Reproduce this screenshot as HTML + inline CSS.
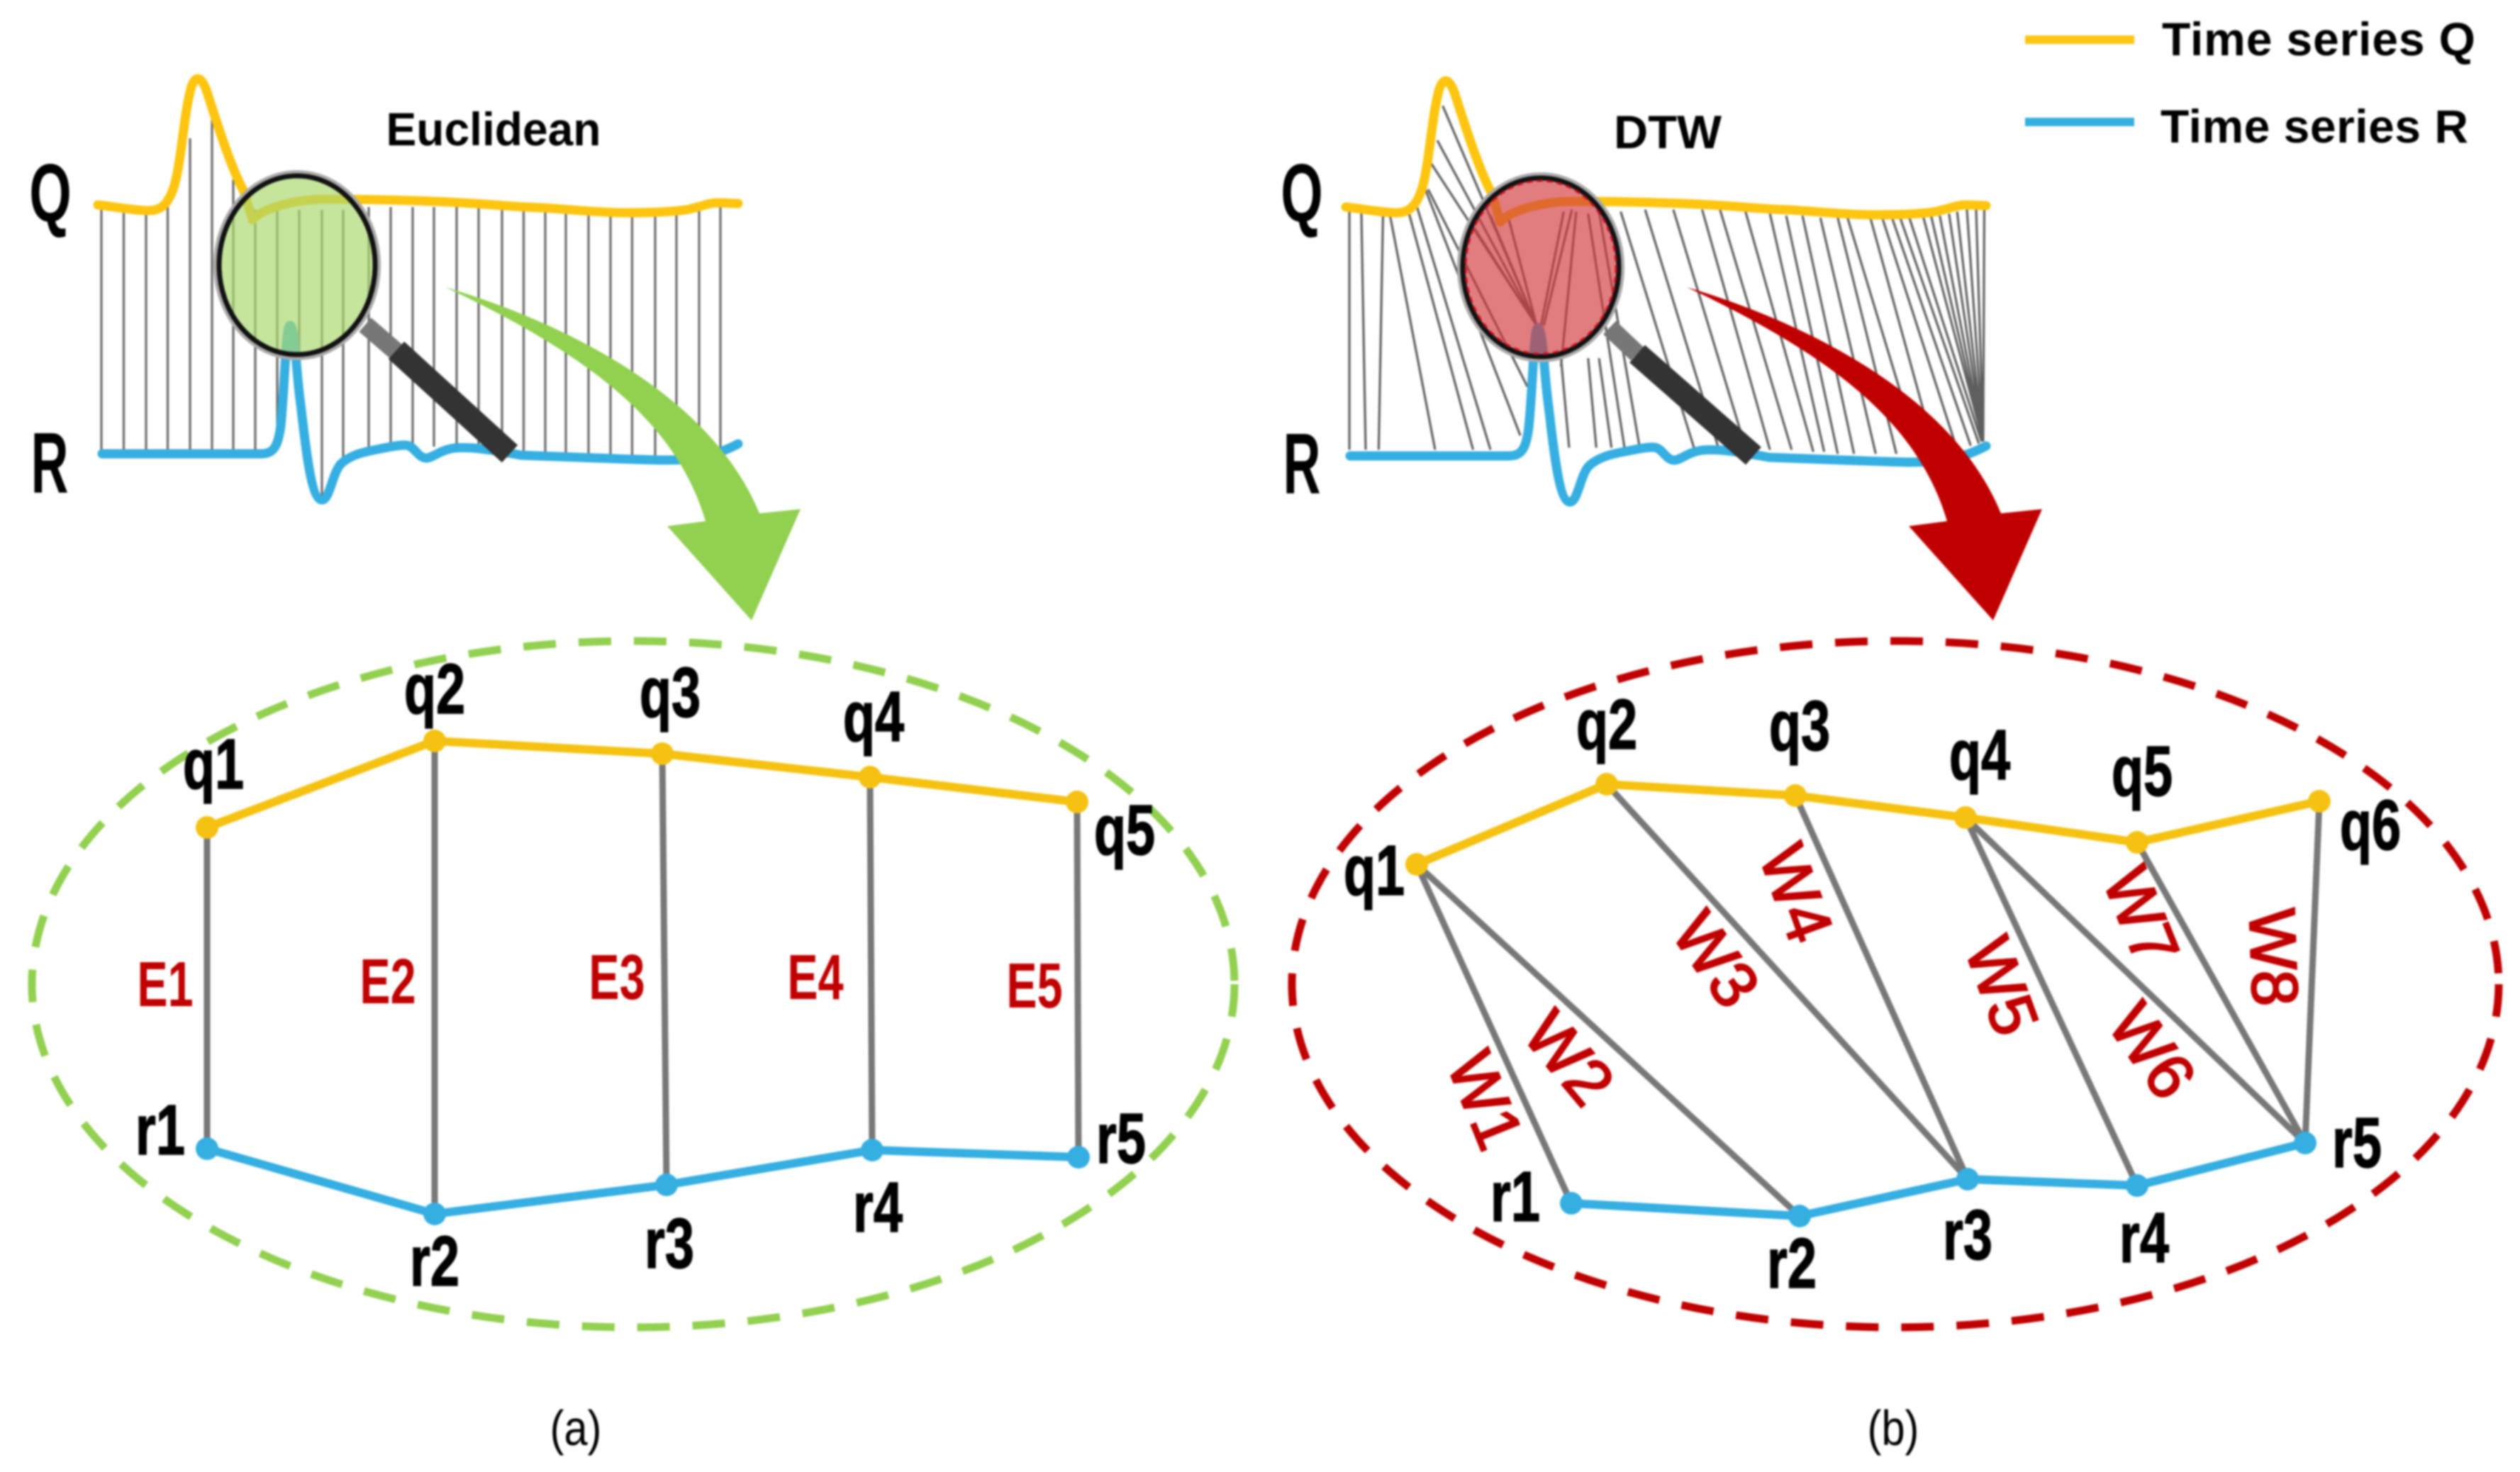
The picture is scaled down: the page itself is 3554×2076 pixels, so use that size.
<!DOCTYPE html>
<html><head><meta charset="utf-8"><style>
html,body{margin:0;padding:0;background:#fff}
svg{display:block;filter:blur(1.2px)}
text{font-family:"Liberation Sans",sans-serif;font-weight:bold;fill:#000;text-anchor:middle}
.n{font-size:100px;stroke:#000;stroke-width:1.5px}
.e{font-size:90px;fill:#c00000}
.w{font-size:92px;fill:#c00000;font-weight:normal;stroke:#c00000;stroke-width:2.5px}
.t{font-size:66px}
.c{font-size:70px;font-weight:normal}
.v{fill:none;stroke:#5f5f5f;stroke-width:3.2;vector-effect:non-scaling-stroke}
</style></head><body>
<svg xmlns="http://www.w3.org/2000/svg" width="3554" height="2076" viewBox="0 0 3554 2076">
<rect width="3554" height="2076" fill="#fff"/>

<!-- LEFT hairlines -->
<path fill="none" stroke="#6a6a6a" stroke-width="3.2" d="M143 296V634M174.500 296V634M206 296V634M236.500 290V634M268 195V634M299 169V634M329 253V634M360 296V634M391 296V622M422 296V545M454 296V700M484 296V655M520 292V640M551 292V632M582 292V630M612 292V630M644 292V632M675 292V634M708 292V640M738.500 293V640M769 295V642M798 297V643M830 298V644M861 300V645M891.500 300V646M924 300V648M954 298V648M986 296V646M1016 290V637"/>

<!-- RIGHT hairlines (zoom space) -->
<g transform="translate(1750,0) scale(.7653,.574)">
<path class="v" d="M200 515L200 1105M222 515L230 1105M262 525L254 1105M275 530L358 1105M310 525L428 1105M325 510L460 1105M340 465L515 1070M345 465L528 950M350 400L545 800M362 345L545 800M372 260L545 800M430 560L545 800M460 530L545 800M490 520L545 800M595 520L553 800M610 515L558 800M618 520L590 900M590 880L605 1100M640 880L655 1100M660 880L683 1100M640 525L707 1100M660 520L735 1100M700 520L835 1100M745 515L880 1100M797 515L930 1100M850 515L975 1105M883 515L1015 1105M930 520L1055 1110M975 525L1075 1110M1005 530L1100 1115M1035 530L1130 1115M1068 535L1170 1115M1100 535L1208 1115M1118 535L1250 1115M1160 535L1280 1115M1182 535L1320 1105M1200 535L1345 1095M1215 535L1360 1090M1232 535L1365 1085M1258 535L1368 1085M1272 530L1368 1085M1288 530L1368 1085M1305 525L1368 1085M1320 520L1368 1085M1338 515L1368 1085M1355 515L1368 1085M1370 515L1368 1085"/>
</g>

<!-- time series curves -->
<g fill="none" stroke-width="13" stroke-linejoin="round" stroke-linecap="round">
<path stroke="#fdc50f" d="M138 289C165 292 190 297 210 297C225 297 235 290 243 270C255 240 258 170 268 130C272 110 282 100 292 130C305 170 325 235 344 270"/>
<path stroke="#fdc50f" d="M356 310C372 292 420 281 459 281C520 281 560 282 612 284C690 287 720 292 765 293C810 296 850 300 880 300C920 300 950 299 972 295C990 291 1000 286 1012 286C1022 286 1032 287 1041 287"/>
<path stroke="#fdc50f" d="M344 270L356 310"/>
<path stroke="#35aee2" d="M144 640L367 640C385 640 392 632 396 600C402 540 403 459 409 459C416 459 418 530 424 570C430 620 438 705 454 705C465 705 468 670 480 655C495 640 520 636 536 633C550 630 565 627 574 628C585 630 590 646 601 646C610 646 620 635 640 632C660 630 680 632 735 642L842 646C900 648 940 650 965 648C990 646 1015 640 1041 626"/>
</g>
<g transform="translate(1760,3)" fill="none" stroke-width="13" stroke-linejoin="round" stroke-linecap="round">
<path stroke="#fdc50f" d="M138 289C165 292 190 297 210 297C225 297 235 290 243 270C255 240 258 170 268 130C272 110 282 100 292 130C305 170 325 235 344 270L356 310"/>
<path stroke="#fdc50f" d="M356 310C372 292 420 281 459 281C520 281 560 282 612 284C690 287 720 292 765 293C810 296 850 300 880 300C920 300 950 299 972 295C990 291 1000 286 1012 286C1022 286 1032 287 1041 287"/>
<path stroke="#35aee2" d="M144 640L367 640C385 640 392 632 396 600C402 540 403 459 409 459C416 459 418 530 424 570C430 620 438 705 454 705C465 705 468 670 480 655C495 640 520 636 536 633C550 630 565 627 574 628C585 630 590 646 601 646C610 646 620 635 640 632C660 630 680 632 735 642L842 646C900 648 940 650 965 648C990 646 1015 640 1041 626"/>
</g>

<!-- left magnifier -->
<line x1="515" y1="458" x2="559" y2="496" stroke="#777" stroke-width="26"/>
<line x1="559" y1="494" x2="719" y2="640" stroke="#333" stroke-width="33"/>
<ellipse cx="419" cy="374" rx="113" ry="129" fill="none" stroke="#aaa" stroke-width="10"/>
<ellipse cx="419" cy="374" rx="110" ry="126" fill="#a9d86f" fill-opacity=".68" stroke="#111" stroke-width="7"/>

<!-- right magnifier -->
<line x1="2270" y1="462" x2="2309" y2="499" stroke="#777" stroke-width="26"/>
<line x1="2309" y1="499" x2="2473" y2="643" stroke="#333" stroke-width="33"/>
<ellipse cx="2173" cy="377" rx="113" ry="129" fill="none" stroke="#aaa" stroke-width="10"/>
<ellipse cx="2173" cy="377" rx="110" ry="126" fill="#d2393c" fill-opacity=".66" stroke="#111" stroke-width="7"/>
<ellipse cx="2173" cy="377" rx="106" ry="122" fill="none" stroke="#d01020" stroke-width="3" stroke-dasharray="8 6"/>

<!-- big arrows -->
<path fill="#92d050" d="M628 405C780 450 1000 550 1071 724L1129 718L1060 875L941 742L995 735C955 600 840 505 628 405Z"/>
<path fill="#c00000" transform="translate(1751,0)" d="M628 405C780 450 1000 550 1071 724L1129 718L1060 875L941 742L995 735C955 600 840 505 628 405Z"/>

<!-- dashed ellipses -->
<ellipse cx="893" cy="1388" rx="848" ry="484" fill="none" stroke="#92d050" stroke-width="11" stroke-dasharray="46 32"/>
<ellipse cx="2673" cy="1388" rx="851" ry="484" fill="none" stroke="#c00000" stroke-width="11" stroke-dasharray="46 32"/>

<!-- left graph -->
<g stroke="#777" stroke-width="9">
<line x1="292" y1="1167" x2="292" y2="1620"/><line x1="613" y1="1045" x2="613" y2="1712"/><line x1="934" y1="1063" x2="940" y2="1671"/><line x1="1227" y1="1096" x2="1230" y2="1622"/><line x1="1519" y1="1131" x2="1521" y2="1632"/>
</g>
<polyline fill="none" stroke="#f5c211" stroke-width="12" points="292,1167 613,1045 934,1063 1227,1096 1519,1131"/>
<polyline fill="none" stroke="#35aee2" stroke-width="12" points="292,1620 613,1712 940,1671 1230,1622 1521,1632"/>
<g fill="#f5c211"><circle cx="292" cy="1167" r="16"/><circle cx="613" cy="1045" r="16"/><circle cx="934" cy="1063" r="16"/><circle cx="1227" cy="1096" r="16"/><circle cx="1519" cy="1131" r="16"/></g>
<g fill="#35aee2"><circle cx="292" cy="1620" r="16"/><circle cx="613" cy="1712" r="16"/><circle cx="940" cy="1671" r="16"/><circle cx="1230" cy="1622" r="16"/><circle cx="1521" cy="1632" r="16"/></g>

<!-- right graph -->
<g stroke="#777" stroke-width="9">
<line x1="1998" y1="1219" x2="2216" y2="1697"/><line x1="1998" y1="1219" x2="2538" y2="1715"/><line x1="2266" y1="1106" x2="2775" y2="1663"/><line x1="2532" y1="1122" x2="2775" y2="1663"/><line x1="2772" y1="1153" x2="3014" y2="1672"/><line x1="2772" y1="1153" x2="3251" y2="1612"/><line x1="3014" y1="1188" x2="3251" y2="1612"/><line x1="3271" y1="1130" x2="3251" y2="1612"/>
</g>
<polyline fill="none" stroke="#f5c211" stroke-width="12" points="1998,1219 2266,1106 2532,1122 2772,1153 3014,1188 3271,1130"/>
<polyline fill="none" stroke="#35aee2" stroke-width="12" points="2216,1697 2538,1715 2775,1663 3014,1672 3251,1612"/>
<g fill="#f5c211"><circle cx="1998" cy="1219" r="16"/><circle cx="2266" cy="1106" r="16"/><circle cx="2532" cy="1122" r="16"/><circle cx="2772" cy="1153" r="16"/><circle cx="3014" cy="1188" r="16"/><circle cx="3271" cy="1130" r="16"/></g>
<g fill="#35aee2"><circle cx="2216" cy="1697" r="16"/><circle cx="2538" cy="1715" r="16"/><circle cx="2775" cy="1663" r="16"/><circle cx="3014" cy="1672" r="16"/><circle cx="3251" cy="1612" r="16"/></g>

<!-- titles -->
<text class="t" x="696" y="205" textLength="303" lengthAdjust="spacingAndGlyphs">Euclidean</text>
<text class="t" x="2352" y="209" textLength="152" lengthAdjust="spacingAndGlyphs">DTW</text>
<text transform="translate(71,312) scale(.66,1)" style="font-size:116px">Q</text>
<text transform="translate(70,695) scale(.6,1)" style="font-size:122px">R</text>
<text transform="translate(1836,312) scale(.66,1)" style="font-size:116px">Q</text>
<text transform="translate(1836,696) scale(.6,1)" style="font-size:122px">R</text>

<!-- legend -->
<line x1="2856" y1="56" x2="3010" y2="56" stroke="#fdc50f" stroke-width="12"/>
<line x1="2856" y1="172" x2="3010" y2="172" stroke="#35aee2" stroke-width="12"/>
<text class="t" x="3270" y="78" textLength="442" lengthAdjust="spacing">Time series Q</text>
<text class="t" x="3264" y="201" textLength="434" lengthAdjust="spacing">Time series R</text>

<!-- left labels -->
<text class="n" transform="translate(301,1112) scale(.74,1)">q1</text>
<text class="n" transform="translate(613,1006) scale(.74,1)">q2</text>
<text class="n" transform="translate(945,1011) scale(.74,1)">q3</text>
<text class="n" transform="translate(1232,1045) scale(.74,1)">q4</text>
<text class="n" transform="translate(1586,1205) scale(.74,1)">q5</text>
<text class="n" transform="translate(226,1628) scale(.74,1)">r1</text>
<text class="n" transform="translate(613,1813) scale(.74,1)">r2</text>
<text class="n" transform="translate(944,1788) scale(.74,1)">r3</text>
<text class="n" transform="translate(1238,1737) scale(.74,1)">r4</text>
<text class="n" transform="translate(1581,1640) scale(.74,1)">r5</text>
<text class="e" transform="translate(233,1419) scale(.72,1)">E1</text>
<text class="e" transform="translate(547,1415) scale(.72,1)">E2</text>
<text class="e" transform="translate(870,1409) scale(.72,1)">E3</text>
<text class="e" transform="translate(1150,1409) scale(.72,1)">E4</text>
<text class="e" transform="translate(1459,1421) scale(.72,1)">E5</text>

<!-- right labels -->
<text class="n" transform="translate(1938,1262) scale(.74,1)">q1</text>
<text class="n" transform="translate(2266,1056) scale(.74,1)">q2</text>
<text class="n" transform="translate(2538,1058) scale(.74,1)">q3</text>
<text class="n" transform="translate(2792,1099) scale(.74,1)">q4</text>
<text class="n" transform="translate(3021,1122) scale(.74,1)">q5</text>
<text class="n" transform="translate(3343,1198) scale(.74,1)">q6</text>
<text class="n" transform="translate(2137,1722) scale(.74,1)">r1</text>
<text class="n" transform="translate(2527,1816) scale(.74,1)">r2</text>
<text class="n" transform="translate(2775,1776) scale(.74,1)">r3</text>
<text class="n" transform="translate(3024,1780) scale(.74,1)">r4</text>
<text class="n" transform="translate(3324,1646) scale(.74,1)">r5</text>

<g dominant-baseline="central">
<text class="w" transform="translate(2124,1540) rotate(68)" dy=".35em">W1</text>
<text class="w" transform="translate(2237,1472) rotate(50)" dy=".35em">W2</text>
<text class="w" transform="translate(2446,1335) rotate(55)" dy=".35em">W3</text>
<text class="w" transform="translate(2563,1249) rotate(70)" dy=".35em">W4</text>
<text class="w" transform="translate(2853,1380) rotate(70)" dy=".35em">W5</text>
<text class="w" transform="translate(3061,1464) rotate(55)" dy=".35em">W6</text>
<text class="w" transform="translate(3049,1280) rotate(68)" dy=".35em">W7</text>
<text class="w" transform="translate(3238,1349) rotate(88)" dy=".35em">W8</text>
</g>

<text class="c" transform="translate(812,2038) scale(.85,1)">(a)</text>
<text class="c" transform="translate(2670,2038) scale(.85,1)">(b)</text>
</svg>
</body></html>
